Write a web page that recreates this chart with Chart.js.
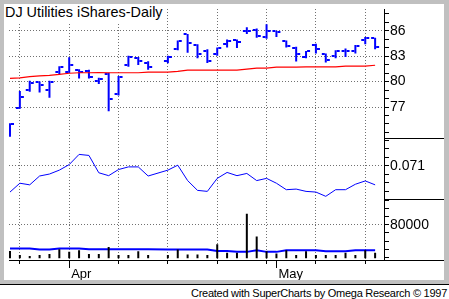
<!DOCTYPE html>
<html lang="en">
<head>
<meta charset="utf-8">
<title>DJ Utilities iShares-Daily</title>
<script src="https://cdn.jsdelivr.net/npm/chart.js@4.4.1/dist/chart.umd.min.js"></script>
<style>
  body { margin: 0; background: #ffffff; font-family: "Liberation Sans", Arial, sans-serif; }
  #moldura { position: absolute; left: 0; top: 0; width: 449px; height: 284px; background: #c0c0c0; border-bottom: 1px solid #000; }
  #area { position: absolute; left: 4px; top: 4px; width: 440px; height: 276px; background: #fff; }
  #titulo { position: absolute; left: 4px; top: 4px; padding: 0 4px 3px 1px; background: #fff; font-size: 14.4px; line-height: 16px; white-space: nowrap; }
  #rodape { position: absolute; right: 2px; top: 287px; font-size: 11px; letter-spacing: -0.27px; line-height: 13px; white-space: nowrap; }
</style>
</head>
<body>
<div id="moldura"></div>
<div id="area"><canvas id="grafico" width="440" height="276"></canvas></div>
<div id="titulo">DJ Utilities iShares-Daily</div>
<div id="rodape">Created with SuperCharts by Omega Research © 1997</div>

<script>
//-------------------------- Dados --------------------------
const dias = [
    "2001-03-23", "2001-03-26", "2001-03-27", "2001-03-28", "2001-03-29", "2001-03-30",
    "2001-04-02", "2001-04-03", "2001-04-04", "2001-04-05", "2001-04-06",
    "2001-04-09", "2001-04-10", "2001-04-11", "2001-04-12", "2001-04-13",
    "2001-04-16", "2001-04-17", "2001-04-18", "2001-04-19", "2001-04-20",
    "2001-04-23", "2001-04-24", "2001-04-25", "2001-04-26", "2001-04-27",
    "2001-04-30", "2001-05-01", "2001-05-02", "2001-05-03", "2001-05-04",
    "2001-05-07", "2001-05-08", "2001-05-09", "2001-05-10", "2001-05-11",
    "2001-05-14", "2001-05-15",
];

// 13/04 sem pregão (Sexta-feira Santa)
const abertura = [
    73.7, 76.9, 79.0, 79.9, 79.0, 81.1, 81.1, 81.4, 81.3, 80.1, 80.9, 78.55, 82.0, 82.75, 82.2, null,
    82.4, 83.8, 85.55, 84.3, 83.6, 83.3, 84.45, 84.85, 86.0, 86.1, 85.25, 85.9, 84.8, 84.0,
    82.9, 84.3, 83.25, 83.05, 83.55, 83.55, 84.85, 85.1,
];
const maxima = [
    75.1, 78.9, 80.1, 80.0, 80.1, 81.8, 82.85, 81.45, 81.4, 80.45, 81.05, 80.65, 83.05, 82.9, 82.4, null,
    83.05, 84.85, 85.6, 84.4, 83.8, 84.0, 84.95, 84.95, 86.4, 86.25, 86.75, 86.0, 84.85, 84.1,
    83.6, 84.45, 83.3, 83.7, 83.9, 84.3, 85.25, 85.15,
];
const minima = [
    73.5, 76.8, 78.8, 78.7, 78.1, 80.9, 81.0, 80.35, 80.35, 79.7, 76.5, 78.35, 81.75, 81.95, 81.4, null,
    82.15, 83.7, 83.4, 82.75, 82.2, 83.05, 84.0, 83.95, 85.6, 85.15, 85.05, 85.25, 84.0, 82.35,
    82.75, 83.3, 82.25, 82.75, 82.9, 83.3, 84.4, 83.8,
];
const fechamento = [
    75.0, 78.15, 79.85, 79.6, 79.9, 81.7, 81.9, 81.15, 80.55, 80.35, 77.9, 80.55, 82.95, 82.45, 81.75, null,
    82.9, 84.75, 84.55, 83.3, 82.4, 83.9, 84.75, 84.7, 86.0, 85.35, 85.9, 85.85, 84.2, 83.25,
    83.6, 83.8, 82.55, 83.6, 83.55, 84.2, 85.1, 84.1,
];
const mediaPreco = [
    80.37, 80.43, 80.58, 80.66, 80.73, 80.84, 80.98, 81.04, 81.04, 81.07, 81.04, 81.04, 81.04, 81.04, 81.12, null,
    81.12, 81.19, 81.35, 81.35, 81.35, 81.35, 81.35, 81.35, 81.46, 81.58, 81.58, 81.69, 81.69, 81.69,
    81.73, 81.73, 81.73, 81.73, 81.81, 81.81, 81.81, 81.92,
];
const indicador = [
    0.06792, 0.06896, 0.06877, 0.06981, 0.07004, 0.0705, 0.07115, 0.07235, 0.07223, 0.07019, 0.06985,
    0.07057, 0.07088, 0.07088, 0.06981, null,
    0.0705, 0.07108, 0.06927, 0.06812, 0.068, 0.06953, 0.07023, 0.06985, 0.07011, 0.06927,
    0.06953, 0.06896, 0.0682, 0.06827, 0.068, 0.06792, 0.06742, 0.0682, 0.0682, 0.06884, 0.06923, 0.06877,
];
const volume = [
    48100, 43000, 42000, 43000, 44200, 50100, 46900, 48900, 44200, 44200, 52900, 43000, 43000, 47700, 43000, null,
    43000, 49800, 43800, 43800, 43000, 56100, 45700, 45700, 93400, 65600, 47700, 45000, 48900, 43000,
    47700, 43000, 43000, 43000, 45700, 43000, 48900, 45700,
];
const mediaVolume = [
    51000, 51000, 51000, 49800, 49800, 51000, 51000, 51000, 50100, 50100, 50100, 50100, 50100, 50100, 50100, null,
    49800, 49800, 49800, 49800, 49800, 48100, 48100, 46900, 46900, 48900, 46900, 46900, 48900, 48900,
    48900, 48900, 47700, 47700, 47700, 48900, 48900, 48900,
];

const precoRotulos = [77, 80, 83, 86];
const indRotulos = [0.071];
const volRotulos = [80000];
const nomesMes = ["Jan", "Feb", "Mar", "Apr", "May", "Jun", "Jul", "Aug", "Sep", "Oct", "Nov", "Dec"];

//-------------------------- Estilo --------------------------
const azul = "#0000ff";
const corPontilhado = "#707070";
const semCor = "rgba(0,0,0,0)";
const pisoVolume = 39000;

Chart.defaults.font.family = "'Liberation Sans', Arial, sans-serif";
Chart.defaults.font.size = 14;
Chart.defaults.color = "#000";

// marcas do eixo x: segundas-feiras e primeiro pregão de cada mês
const marcasX = [];
dias.forEach((d, i) => {
    const segunda = new Date(d + "T00:00:00Z").getUTCDay() === 1;
    const inicioMes = i > 0 && d.slice(5, 7) !== dias[i - 1].slice(5, 7);
    if (segunda || inicioMes) {
        marcasX.push({ indice: i, segunda, inicioMes, mes: nomesMes[+d.slice(5, 7) - 1] });
    }
});

function acharMarca(valor) {
    return marcasX.find((m) => m.indice === valor);
}

function pontos(valores) {
    return valores.map((v, i) => ({ x: i, y: v }));
}

function tracoOHLC(lado) {
    const c = document.createElement("canvas");
    c.width = 10;
    c.height = 2;
    const g = c.getContext("2d");
    g.fillStyle = azul;
    g.fillRect(lado === "esq" ? 1 : 6, 0, 3, 2);
    return c;
}

function eixoDireito(min, max, passo, rotulos, formato, peso, ordem) {
    const temRotulo = (v) => rotulos.some((r) => Math.abs(r - v) < passo / 10);
    return {
        type: "linear",
        position: "right",
        stack: "paineis",
        stackWeight: peso,
        weight: ordem,
        min: min,
        max: max,
        beginAtZero: false,
        afterBuildTicks: (escala) => {
            const marcas = [];
            const ini = Math.ceil(escala.min / passo - 1e-9);
            const fim = Math.floor(escala.max / passo + 1e-9);
            for (let k = ini; k <= fim; k++) {
                marcas.push({ value: +(k * passo).toFixed(6) });
            }
            escala.ticks = marcas;
        },
        afterFit: (escala) => {
            escala.width = 60;
            escala.paddingTop = 0;
            escala.paddingBottom = 0;
        },
        ticks: {
            autoSkip: false,
            padding: 1,
            font: { size: 14 },
            callback: (v) => (temRotulo(v) ? formato(v) : ""),
        },
        grid: {
            color: (ctx) => (ctx.tick && temRotulo(ctx.tick.value) ? corPontilhado : semCor),
            tickColor: "#000",
            tickLength: 5,
            lineWidth: 1,
        },
        border: { color: "#000", width: 1, dash: [1, 2] },
    };
}

// divisórias dos painéis na área do eixo direito
const divisorias = {
    id: "divisorias",
    afterDraw(chart) {
        const ctx = chart.ctx;
        const area = chart.chartArea;
        ctx.save();
        ctx.strokeStyle = "#000";
        ctx.lineWidth = 1;
        ctx.beginPath();
        ["preco", "ind"].forEach((id) => {
            const y = Math.round(chart.scales[id].bottom) + 0.5;
            ctx.moveTo(area.right, y);
            ctx.lineTo(chart.width, y);
        });
        const yb = Math.round(area.bottom) + 0.5;
        ctx.moveTo(area.right, yb);
        ctx.lineTo(chart.width, yb);
        ctx.stroke();
        ctx.restore();
    },
};

//-------------------------- Gráfico --------------------------
new Chart(document.getElementById("grafico"), {
    type: "line",
    data: {
        datasets: [
            {
                type: "line", label: "Média", data: pontos(mediaPreco), yAxisID: "preco",
                borderColor: "#ff0000", borderWidth: 1.2, pointRadius: 0, spanGaps: true, tension: 0,
            },
            {
                type: "line", label: "Abertura", data: pontos(abertura), yAxisID: "preco",
                showLine: false, pointStyle: tracoOHLC("esq"), pointRadius: 2,
            },
            {
                type: "line", label: "Fechamento", data: pontos(fechamento), yAxisID: "preco",
                showLine: false, pointStyle: tracoOHLC("dir"), pointRadius: 2,
            },
            {
                type: "bar", label: "Máxima/Mínima", yAxisID: "preco",
                data: dias.map((d, i) => ({ x: i, y: maxima[i] == null ? null : [minima[i], maxima[i]] })),
                backgroundColor: azul, barThickness: 2, grouped: false, inflateAmount: 0, borderWidth: 0,
            },
            {
                type: "line", label: "Indicador", data: pontos(indicador), yAxisID: "ind",
                borderColor: azul, borderWidth: 1, pointRadius: 0, spanGaps: true, tension: 0,
            },
            {
                type: "bar", label: "Volume", data: pontos(volume), yAxisID: "vol",
                backgroundColor: "#000", barThickness: 2, grouped: false, inflateAmount: 0, borderWidth: 0,
                base: pisoVolume,
            },
            {
                type: "line", label: "Média volume", data: pontos(mediaVolume), yAxisID: "vol",
                borderColor: azul, borderWidth: 2, pointRadius: 0, spanGaps: true, tension: 0,
            },
        ],
    },
    options: {
        responsive: false,
        animation: false,
        events: [],
        layout: { padding: 0 },
        plugins: { legend: { display: false }, tooltip: { enabled: false } },
        scales: {
            x: {
                type: "linear",
                min: -0.1,
                max: 37.9,
                offset: false,
                afterBuildTicks: (escala) => {
                    escala.ticks = marcasX.map((m) => ({ value: m.indice }));
                },
                afterFit: (escala) => {
                    escala.height = 20;
                    escala.paddingLeft = 0;
                    escala.paddingRight = 0;
                },
                ticks: {
                    autoSkip: false,
                    maxRotation: 0,
                    minRotation: 0,
                    align: "start",
                    labelOffset: 2,
                    padding: -1,
                    font: { size: 13 },
                    callback: (v) => {
                        const m = acharMarca(v);
                        return m && m.inicioMes ? m.mes : "";
                    },
                },
                grid: {
                    offset: false,
                    color: (ctx) => {
                        const m = ctx.tick && acharMarca(ctx.tick.value);
                        return m && m.segunda ? corPontilhado : semCor;
                    },
                    tickColor: "#000",
                    tickLength: 8,
                    tickBorderDash: (ctx) => {
                        const m = ctx.tick && acharMarca(ctx.tick.value);
                        return m && m.inicioMes ? [] : [3, 30];
                    },
                },
                border: { color: "#000", width: 1, dash: [1, 2] },
            },
            preco: eixoDireito(73.3, 88.55, 1, precoRotulos, (v) => String(v), 132, 1),
            ind: eixoDireito(0.06708, 0.07423, 0.001, indRotulos, (v) => v.toFixed(3), 62, 2),
            vol: eixoDireito(37000, 111000, 10000, volRotulos, (v) => String(v), 62, 3),
        },
    },
    plugins: [divisorias],
});
</script>
</body>
</html>
